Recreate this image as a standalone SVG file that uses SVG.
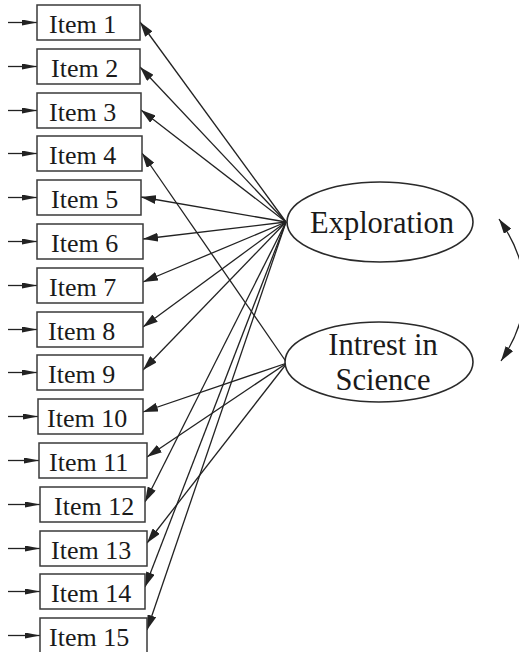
<svg xmlns="http://www.w3.org/2000/svg" width="519" height="652" viewBox="0 0 519 652">
<style>
.box{fill:#fff;stroke:#3a3a3a;stroke-width:1.5}
.lbl{font-family:"Liberation Serif","Times New Roman",serif;font-size:26px;fill:#1a1a1a}
.big{font-family:"Liberation Serif","Times New Roman",serif;font-size:30.5px;fill:#1a1a1a}
.lv{fill:#fff;stroke:#2a2a2a;stroke-width:1.6}
.c{fill:none;stroke:#222;stroke-width:1.3;marker-end:url(#ah)}
.in{fill:none;stroke:#222;stroke-width:1.3;marker-end:url(#ahs)}
</style>
<defs>
<marker id="ah" markerUnits="userSpaceOnUse" markerWidth="16" markerHeight="9" refX="15" refY="4.5" orient="auto-start-reverse"><path d="M0,0 L15,4.5 L0,9 z" fill="#222"/></marker>
<marker id="ahs" markerUnits="userSpaceOnUse" markerWidth="16" markerHeight="6" refX="15" refY="3" orient="auto"><path d="M0,0 L15,3 L0,6 z" fill="#222"/></marker>
</defs>
<g id="connectors">
<path class="in" d="M8 22.5H37"/>
<path class="in" d="M8 66.5H37"/>
<path class="in" d="M8 110.5H37"/>
<path class="in" d="M8 153.5H37"/>
<path class="in" d="M8 197.5H37"/>
<path class="in" d="M8 241.5H37"/>
<path class="in" d="M8 285.5H37"/>
<path class="in" d="M8 329.5H37"/>
<path class="in" d="M8 372.5H37"/>
<path class="in" d="M8 416.5H38"/>
<path class="in" d="M8 460.5H39"/>
<path class="in" d="M8 504.5H40"/>
<path class="in" d="M8 548.5H40"/>
<path class="in" d="M8 591.5H40"/>
<path class="in" d="M8 635.5H40"/>
<path class="c" d="M286 222L140 22"/>
<path class="c" d="M286 222L140 67"/>
<path class="c" d="M286 222L141 110"/>
<path class="c" d="M286 222L141 197"/>
<path class="c" d="M286 222L143 239"/>
<path class="c" d="M286 222L143 282"/>
<path class="c" d="M286 222L143 327"/>
<path class="c" d="M286 222L143 370"/>
<path class="c" d="M286 222L145 502"/>
<path class="c" d="M286 222L145 587"/>
<path class="c" d="M286 222L147 630"/>
<path class="c" d="M287 363L142 153"/>
<path class="c" d="M287 363L143 412"/>
<path class="c" d="M287 363L147 457"/>
<path class="c" d="M287 363L147 543"/>
<path class="c" style="marker-start:url(#ah)" d="M499 219Q549 290 501 361"/>
</g>
<g id="item1"><rect class="box" x="37" y="5" width="103" height="35"/><text class="lbl" x="49" y="33">Item 1</text></g>
<g id="item2"><rect class="box" x="37" y="49" width="103" height="35"/><text class="lbl" x="51" y="77">Item 2</text></g>
<g id="item3"><rect class="box" x="37" y="93" width="104" height="35"/><text class="lbl" x="49" y="121">Item 3</text></g>
<g id="item4"><rect class="box" x="37" y="136" width="105" height="35"/><text class="lbl" x="49" y="164">Item 4</text></g>
<g id="item5"><rect class="box" x="37" y="180" width="104" height="35"/><text class="lbl" x="51" y="208">Item 5</text></g>
<g id="item6"><rect class="box" x="37" y="224" width="106" height="35"/><text class="lbl" x="51" y="252">Item 6</text></g>
<g id="item7"><rect class="box" x="37" y="268" width="106" height="35"/><text class="lbl" x="49" y="296">Item 7</text></g>
<g id="item8"><rect class="box" x="37" y="312" width="106" height="35"/><text class="lbl" x="48" y="340">Item 8</text></g>
<g id="item9"><rect class="box" x="37" y="355" width="106" height="35"/><text class="lbl" x="48" y="383">Item 9</text></g>
<g id="item10"><rect class="box" x="38" y="399" width="105" height="35"/><text class="lbl" x="47" y="427">Item 10</text></g>
<g id="item11"><rect class="box" x="39" y="443" width="108" height="35"/><text class="lbl" x="49" y="471">Item 11</text></g>
<g id="item12"><rect class="box" x="40" y="487" width="105" height="35"/><text class="lbl" x="54" y="515">Item 12</text></g>
<g id="item13"><rect class="box" x="40" y="531" width="107" height="35"/><text class="lbl" x="51" y="559">Item 13</text></g>
<g id="item14"><rect class="box" x="40" y="574" width="105" height="35"/><text class="lbl" x="51" y="602">Item 14</text></g>
<g id="item15"><rect class="box" x="40" y="618" width="107" height="35"/><text class="lbl" x="49" y="646">Item 15</text></g>
<g id="exploration"><ellipse class="lv" cx="380" cy="222" rx="93" ry="40"/><text class="big" x="382" y="233" text-anchor="middle">Exploration</text></g>
<g id="interest"><ellipse class="lv" cx="379" cy="362" rx="94" ry="40"/><text class="big" x="383" y="355" text-anchor="middle">Intrest in</text><text class="big" x="383" y="390" text-anchor="middle">Science</text></g>
</svg>
